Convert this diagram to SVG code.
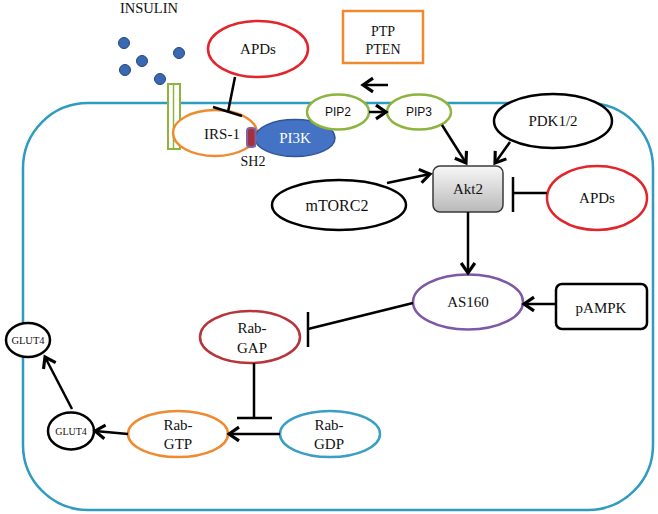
<svg xmlns="http://www.w3.org/2000/svg" width="658" height="514" viewBox="0 0 658 514">
<defs>
<style>
text{font-family:"Liberation Serif","Times New Roman",serif;font-size:15px;fill:#111;text-anchor:middle}
.sans{font-family:"Liberation Sans",Arial,sans-serif;font-size:12px}
.node{fill:#fff;stroke-width:2.5}
.blk{stroke:#000}
.red{stroke:#E3242B}
.org{stroke:#F08A30}
.grn{stroke:#8DB43E}
.pur{stroke:#7E57A5}
.gap{stroke:#B7343B}
.teal{stroke:#3A9EC6}
.edge{fill:none;stroke:#000;stroke-width:2.5}
.arr{marker-end:url(#ah)}
.dot{fill:#3A69B2;stroke:#23457E;stroke-width:1}
</style>
<marker id="ah" markerUnits="userSpaceOnUse" markerWidth="20" markerHeight="20" viewBox="-12 -8 14 16" refX="0" refY="0" orient="auto">
<path d="M-8,-5.5 L0,0 L-8,5.5" fill="none" stroke="#000" stroke-width="2.5"/>
</marker>
<linearGradient id="akt" x1="0" y1="0" x2="0" y2="1">
<stop offset="0" stop-color="#f7f7f7"/>
<stop offset="1" stop-color="#b9b9b9"/>
</linearGradient>
</defs>

<rect id="membrane" x="23" y="103" width="630" height="407" rx="65" ry="65" fill="none" stroke="#2E9BBF" stroke-width="2.5"/>

<g id="insulin">
<text x="149" y="13" style="font-size:14.5px">INSULIN</text>
<circle class="dot" cx="124" cy="43" r="5.5"/>
<circle class="dot" cx="142" cy="61" r="5.5"/>
<circle class="dot" cx="125" cy="70" r="5.5"/>
<circle class="dot" cx="179" cy="53" r="5.5"/>
<circle class="dot" cx="160" cy="79" r="5.5"/>
</g>

<g id="receptor">
<rect x="168" y="84" width="12" height="65" fill="#fff" stroke="#8DB43E" stroke-width="2"/>
<line x1="173.5" y1="85" x2="173.5" y2="148" stroke="#8DB43E" stroke-width="1.5"/>
</g>

<g id="apds-top">
<ellipse class="node red" cx="258" cy="49" rx="50" ry="28"/>
<text x="258" y="54">APDs</text>
</g>

<g id="ptp-pten">
<rect x="343" y="11" width="80" height="52" fill="#fff" stroke="#F08A30" stroke-width="2.5"/>
<text x="383" y="36" style="font-size:14px">PTP</text>
<text x="383" y="54" style="font-size:14px">PTEN</text>
</g>

<g id="irs1">
<ellipse class="node org" cx="215" cy="133" rx="42" ry="23"/>
<text x="222" y="139">IRS-1</text>
</g>

<g id="pi3k">
<ellipse cx="295" cy="138" rx="40" ry="18.5" fill="#4472C4" stroke="#2F5597" stroke-width="1.5"/>
<text x="295" y="143" style="fill:#fff">PI3K</text>
</g>

<g id="sh2">
<rect x="247" y="128" width="8.5" height="19" rx="3" fill="#A5303C" stroke="#8064A2" stroke-width="2"/>
<text x="253" y="166" style="font-size:14px">SH2</text>
</g>

<g id="pip2">
<ellipse class="node grn" cx="338" cy="112" rx="31" ry="17.5"/>
<text class="sans" x="338" y="116">PIP2</text>
</g>

<g id="pip3">
<ellipse class="node grn" cx="419" cy="112" rx="32" ry="17.5"/>
<text class="sans" x="419" y="116">PIP3</text>
</g>

<g id="pdk">
<ellipse class="node blk" cx="553" cy="121" rx="59" ry="27"/>
<text x="553" y="126">PDK1/2</text>
</g>

<g id="akt2">
<rect x="433" y="166" width="70" height="46" rx="7" fill="url(#akt)" stroke="#3a3a3a" stroke-width="1.5"/>
<text x="468" y="194">Akt2</text>
</g>

<g id="mtorc2">
<ellipse class="node blk" cx="339" cy="205" rx="67" ry="25"/>
<text x="337" y="211" style="font-size:16px">mTORC2</text>
</g>

<g id="apds-right">
<ellipse class="node red" cx="597" cy="198" rx="50" ry="32"/>
<text x="597" y="203">APDs</text>
</g>

<g id="as160">
<ellipse class="node pur" cx="468" cy="302" rx="55" ry="27.5"/>
<text x="468" y="307">AS160</text>
</g>

<g id="pampk">
<rect x="556" y="284" width="91" height="45" rx="6" fill="#fff" stroke="#000" stroke-width="2.5"/>
<text x="601" y="313">pAMPK</text>
</g>

<g id="rab-gap">
<ellipse class="node gap" cx="250" cy="337" rx="50" ry="26"/>
<text x="252" y="333">Rab-</text>
<text x="252" y="353">GAP</text>
</g>

<g id="rab-gdp">
<ellipse class="node teal" cx="330" cy="434" rx="50" ry="23"/>
<text x="329" y="430">Rab-</text>
<text x="329" y="449">GDP</text>
</g>

<g id="rab-gtp">
<ellipse class="node org" cx="178" cy="434" rx="50" ry="23"/>
<text x="178" y="430">Rab-</text>
<text x="178" y="449">GTP</text>
</g>

<g id="glut4-low">
<ellipse class="node blk" cx="71" cy="431" rx="23" ry="18.5"/>
<text x="71" y="435" style="font-size:10px">GLUT4</text>
</g>

<g id="glut4-up">
<ellipse class="node blk" cx="28" cy="340" rx="22" ry="17"/>
<text x="28" y="344" style="font-size:10.5px">GLUT4</text>
</g>

<g id="connectors">
<line class="edge" x1="235" y1="77" x2="228" y2="112"/>
<line class="edge" x1="213" y1="107" x2="242" y2="116"/>
<line class="edge arr" x1="388" y1="85" x2="363" y2="85"/>
<line class="edge arr" x1="369" y1="112" x2="386" y2="112"/>
<line class="edge arr" x1="442" y1="125" x2="466" y2="163"/>
<line class="edge arr" x1="510" y1="142" x2="495" y2="163"/>
<line class="edge arr" x1="387" y1="183" x2="430" y2="174"/>
<line class="edge" x1="547" y1="193" x2="513" y2="193"/>
<line class="edge" x1="513" y1="177" x2="513" y2="212"/>
<line class="edge arr" x1="468" y1="212" x2="468" y2="273"/>
<line class="edge arr" x1="556" y1="304" x2="524" y2="304"/>
<line class="edge" x1="413" y1="303" x2="308" y2="329"/>
<line class="edge" x1="308" y1="312" x2="308" y2="347"/>
<line class="edge" x1="254" y1="363" x2="254" y2="418"/>
<line class="edge" x1="237" y1="418" x2="272" y2="418"/>
<line class="edge arr" x1="280" y1="434" x2="229" y2="434"/>
<line class="edge arr" x1="128" y1="434" x2="95" y2="431"/>
<line class="edge arr" x1="72" y1="409" x2="45" y2="357"/>
</g>
</svg>
